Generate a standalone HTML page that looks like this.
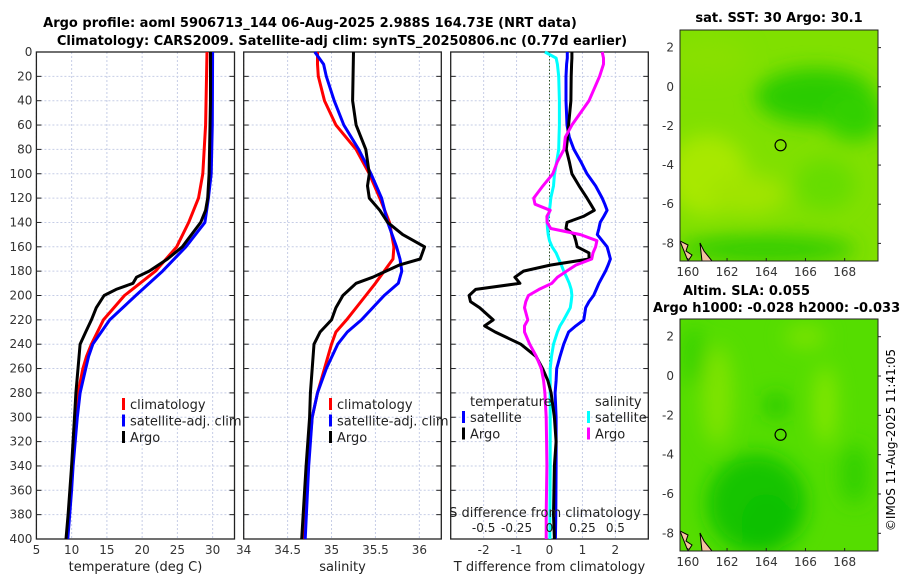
<!DOCTYPE html>
<html><head><meta charset="utf-8">
<style>
html,body{margin:0;padding:0;background:#fff;}
svg text{font-family:"DejaVu Sans","Liberation Sans",sans-serif;}
</style></head>
<body>
<svg id="fig" width="900" height="580" xmlns="http://www.w3.org/2000/svg">
<defs>
<filter id="blur1" x="-50%" y="-50%" width="200%" height="200%"><feGaussianBlur stdDeviation="10"/></filter>
<clipPath id="m1c"><rect x="680" y="30" width="198" height="231"/></clipPath>
<clipPath id="m2c"><rect x="680" y="319" width="198" height="232"/></clipPath>
</defs>
<text x="310" y="27" font-size="13" font-weight="bold" text-anchor="middle">Argo profile: aoml 5906713_144 06-Aug-2025 2.988S 164.73E (NRT data)</text>
<text x="342" y="45" font-size="13" font-weight="bold" text-anchor="middle">Climatology: CARS2009. Satellite-adj clim: synTS_20250806.nc (0.77d earlier)</text>
<g id="panels"></g>
<g id="maps"></g>
<text transform="translate(895,440) rotate(-90)" font-size="12" text-anchor="middle">©IMOS 11-Aug-2025 11:41:05</text>
</svg>
<script>
const tDepth = [0,60,100,120,140,160,180,200,220,240,250,260,280,300,340,360,400];
const tClim  = [29.2,29.0,28.6,28.0,26.6,24.9,21.9,17.5,14.5,12.8,12.1,11.6,10.9,10.6,10.1,9.9,9.3];
const tSat   = [30.0,29.95,29.8,29.4,28.9,26.2,22.9,19.1,15.4,13.0,12.4,12.0,11.2,10.8,10.2,10.0,9.45];
const argoDepth = [0,40,100,120,130,140,160,170,180,185,190,195,200,210,220,230,240,260,280,300,340,380,400];
const tArgo  = [29.7,29.7,29.5,29.3,29.0,28.3,25.7,23.6,21.0,19.2,18.7,16.3,14.6,13.5,12.8,12.0,11.2,10.9,10.6,10.4,10.0,9.5,9.2];

const sDepth = [0,10,20,40,60,80,100,120,140,160,170,180,190,200,220,230,240,260,280,300,340,400];
const sClim = [34.84,34.84,34.85,34.92,35.05,35.28,35.43,35.55,35.66,35.71,35.70,35.60,35.50,35.39,35.17,35.05,35.0,34.92,34.84,34.78,34.73,34.69];
const sSat  = [34.81,34.91,34.94,35.03,35.14,35.31,35.45,35.57,35.64,35.74,35.78,35.80,35.76,35.60,35.34,35.18,35.07,34.94,34.84,34.78,34.74,34.70];
const sArgoDepth = [0,40,60,80,100,110,120,130,140,150,160,170,175,180,185,190,200,210,220,230,240,260,280,300,340,400];
const sArgo = [35.25,35.24,35.28,35.39,35.43,35.41,35.43,35.55,35.64,35.81,36.06,36.01,35.77,35.62,35.47,35.28,35.13,35.05,35.0,34.87,34.80,34.78,34.76,34.75,34.71,34.66];

const dDepth = [0,5,10,20,40,60,70,80,90,100,110,120,125,130,135,140,145,150,155,160,165,170,175,180,185,190,195,200,205,210,220,225,230,240,250,260,270,280,300,320,340,380,400];
const dtArgo = [0.68,0.68,0.67,0.66,0.65,0.58,0.55,0.51,0.6,0.68,0.9,1.14,1.25,1.36,1.03,0.53,0.5,0.74,0.8,0.84,1.2,1.2,0.02,-0.79,-1.05,-0.9,-2.24,-2.44,-2.4,-2.12,-1.71,-1.97,-1.65,-0.87,-0.41,-0.21,-0.05,0.05,0.15,0.2,0.15,0.12,0.15];
const dtSat  = [0.54,0.54,0.52,0.5,0.5,0.53,0.6,0.74,0.95,1.14,1.4,1.6,1.68,1.75,1.65,1.54,1.5,1.45,1.6,1.75,1.8,1.85,1.78,1.7,1.6,1.5,1.42,1.34,1.2,1.1,1.04,0.8,0.58,0.43,0.32,0.22,0.2,0.17,0.2,0.2,0.2,0.19,0.18];
const dsSat  = [-0.035,0.05,0.06,0.07,0.075,0.075,0.072,0.07,0.055,0.038,0.03,0.01,0.005,0.0,-0.01,-0.018,-0.015,-0.01,0.0,0.02,0.05,0.07,0.09,0.108,0.13,0.15,0.165,0.17,0.165,0.158,0.108,0.08,0.06,0.03,0.015,0.005,0.005,0.005,0.005,0.005,0.005,0.003,0.003];
const dsArgo = [0.4,0.41,0.41,0.38,0.3,0.17,0.12,0.11,0.06,0.025,-0.05,-0.12,-0.11,0.005,-0.02,-0.018,0.01,0.235,0.36,0.35,0.33,0.32,0.2,0.13,0.06,0.018,-0.08,-0.16,-0.18,-0.19,-0.165,-0.19,-0.19,-0.15,-0.1,-0.062,-0.045,-0.035,-0.025,-0.022,-0.02,-0.025,-0.025];

const depthTicks = [0,20,40,60,80,100,120,140,160,180,200,220,240,260,280,300,320,340,360,380,400];
const tTicks = [5,10,15,20,25,30];
const sTicks = [34,34.5,35,35.5,36];
const sTickLabels = ["34","34.5","35","35.5","36"];
const dTTicks = [-2,-1,0,1,2];
const dSTicks = [-0.5,-0.25,0,0.25,0.5];
const dSTickLabels = ["-0.5","-0.25","0","0.25","0.5"];

const NS='http://www.w3.org/2000/svg';
const root=document.getElementById('panels');
function mk(tag,attrs,parent){const e=document.createElementNS(NS,tag);for(const k in attrs)e.setAttribute(k,attrs[k]);(parent||root).appendChild(e);return e;}
const Y0=52, Y1=539;
function yScale(d){return Y0+(Y1-Y0)*d/400;}

function panel(name,x0,x1,vmin,vmax){
  const g=mk('g',{});
  
  
  return {g,x0,x1,sx:v=>x0+(x1-x0)*(v-vmin)/(vmax-vmin)};
}
function frame(p,xticks,xlabels,showDepthLabels,xtitle){
  depthTicks.forEach(d=>{const y=yScale(d);
    const gl=mk('line',{x1:p.x0,x2:p.x1,y1:y,y2:y,stroke:'#c6cde6','stroke-width':1,'stroke-dasharray':'2,2'},p.g);
    
    
    mk('line',{x1:p.x0,x2:p.x0+5,y1:y,y2:y,stroke:'#222'},p.g);
    mk('line',{x1:p.x1-5,x2:p.x1,y1:y,y2:y,stroke:'#222'},p.g);
    if(showDepthLabels){const t=mk('text',{x:p.x0-4,y:y+4,'font-size':12,'text-anchor':'end',fill:'#333'},p.g);t.textContent=d;
      
      }
  });
  xticks.forEach((v,i)=>{const x=p.sx(v);
    const gl=mk('line',{x1:x,x2:x,y1:Y0,y2:Y1,stroke:'#c6cde6','stroke-width':1,'stroke-dasharray':'2,2'},p.g);
    
    
    if(xlabels){const t=mk('text',{x:x,y:Y1+15,'font-size':12,'text-anchor':'middle',fill:'#333'},p.g);t.textContent=xlabels[i];
      
      }
  });
  const r=mk('rect',{x:p.x0,y:Y0,width:p.x1-p.x0,height:Y1-Y0,fill:'none',stroke:'#222','stroke-width':1.3},p.g);
  
  
  if(xtitle){const t=mk('text',{x:(p.x0+p.x1)/2,y:Y1+32,'font-size':13,'text-anchor':'middle',fill:'#222'},p.g);t.textContent=xtitle;
    
    }
}
function line(p,depths,vals,color,name,w){
  const pts=vals.map((v,i)=>p.sx(v).toFixed(1)+','+yScale(depths[i]).toFixed(1)).join(' ');
  const pl=mk('polyline',{points:pts,fill:'none',stroke:color,'stroke-width':w||3,'stroke-linejoin':'round'},p.g);
  
  
}
function legend(p,x,y,items){
  items.forEach((it,i)=>{
    const yy=y+i*16.5;
    mk('rect',{x:x,y:yy-11,width:3,height:12,fill:it[1]},p.g);
    const t=mk('text',{x:x+8,y:yy,'font-size':13,fill:'#222'},p.g);t.textContent=it[0];
    
    
  });
}

const p1=panel('temperature-panel',36.4,234.5,5,33.1);
frame(p1,tTicks,tTicks.map(String),true,'temperature (deg C)');
line(p1,tDepth,tClim,'#ff0000','climatology-temp-line');
line(p1,tDepth,tSat,'#0000ff','satellite-temp-line');
line(p1,argoDepth,tArgo,'#000000','argo-temp-line');
legend(p1,122,409,[['climatology','#ff0000'],['satellite-adj. clim','#0000ff'],['Argo','#000']]);

const p2=panel('salinity-panel',243.7,441.3,34,36.25);
frame(p2,sTicks,sTickLabels,false,'salinity');
line(p2,sDepth,sClim,'#ff0000','climatology-salinity-line');
line(p2,sDepth,sSat,'#0000ff','satellite-salinity-line');
line(p2,sArgoDepth,sArgo,'#000000','argo-salinity-line');
legend(p2,329,409,[['climatology','#ff0000'],['satellite-adj. clim','#0000ff'],['Argo','#000']]);

const p3=panel('difference-panel',450.7,648.3,-3,3);
frame(p3,dTTicks,dTTicks.map(String),false,'T difference from climatology');
const zl=mk('line',{x1:p3.sx(0),x2:p3.sx(0),y1:Y0,y2:Y1,stroke:'#335522','stroke-width':1,'stroke-dasharray':'1.5,2'},p3.g);


const sx3=v=>p3.sx(v*4);
line(p3,dDepth,dsSat.map(v=>v*4),'#00ffff','salinity-satellite-diff-line');
line(p3,dDepth,dtSat,'#0000ff','temperature-satellite-diff-line');
line(p3,dDepth,dtArgo,'#000000','temperature-argo-diff-line');
line(p3,dDepth,dsArgo.map(v=>v*4),'#ff00ff','salinity-argo-diff-line');
dSTicks.forEach((v,i)=>{const t=mk('text',{x:sx3(v),y:532,'font-size':12,'text-anchor':'middle',fill:'#222'},p3.g);t.textContent=dSTickLabels[i];
  
  });
{const t=mk('text',{x:545,y:517,'font-size':13,'text-anchor':'middle',fill:'#222'},p3.g);t.textContent='S difference from climatology';
  
  }
{const t=mk('text',{x:470,y:406,'font-size':13,fill:'#222'},p3.g);t.textContent='temperature';
  
  
 const t2=mk('text',{x:595,y:406,'font-size':13,fill:'#222'},p3.g);t2.textContent='salinity';
  
  }
legend(p3,462,422,[['satellite','#0000ff'],['Argo','#000']]);
legend(p3,587,422,[['satellite','#00ffff'],['Argo','#ff00ff']]);

const mapLonTicks=[160,162,164,166,168];
const mapLatTicks=[2,0,-2,-4,-6,-8];
const mroot=document.getElementById('maps');
function map(name,x0,y0,w,h,clip,blobs,base){
  const g=mk('g',{},mroot);
  
  
  const sx=lon=>x0+(lon-159.6)/(169.7-159.6)*w;
  const sy=lat=>y0+(2.9-lat)/(2.9+8.9)*h;
  const cg=mk('g',{'clip-path':'url(#'+clip+')'},g);
  mk('rect',{x:x0,y:y0,width:w,height:h,fill:base},cg);
  const bg=mk('g',{filter:'url(#blur1)'},cg);
  blobs.forEach(b=>mk('ellipse',{cx:sx(b[0]),cy:sy(b[1]),rx:b[2],ry:b[3],fill:b[4]},bg));
  mk('path',{d:`M${x0} ${y0+h-20} l8 4 l-2 6 l6 4 l-4 6 Z`,fill:'#f4c2a0',stroke:'#000','stroke-width':1},cg);
  mk('path',{d:`M${x0+20} ${y0+h-18} l4 8 l8 10 l-10 0 Z`,fill:'#f4c2a0',stroke:'#000','stroke-width':1},cg);
  mk('rect',{x:x0,y:y0,width:w,height:h,fill:'none',stroke:'#222','stroke-width':1},g);
  const c=mk('circle',{cx:sx(164.73),cy:sy(-2.988),r:5.5,fill:'none',stroke:'#000','stroke-width':1.2},g);
  
  
  mapLonTicks.forEach(v=>{const t=mk('text',{x:sx(v),y:y0+h+15,'font-size':12,'text-anchor':'middle',fill:'#333'},g);t.textContent=v;
    
    
    mk('line',{x1:sx(v),x2:sx(v),y1:y0+h,y2:y0+h-3,stroke:'#222'},g);});
  mapLatTicks.forEach(v=>{const t=mk('text',{x:x0-6,y:sy(v)+4,'font-size':12,'text-anchor':'end',fill:'#333'},g);t.textContent=v;
    
    
    mk('line',{x1:x0+w,x2:x0+w+3,y1:sy(v),y2:sy(v),stroke:'#222'},g);});
}
map('sst-map',680,30,198,231,'m1c',[
 [166.5,-0.5,60,28,'#2ccc00'],[168.5,-1.5,30,25,'#33d000'],[161,-4.5,40,40,'#a8e800'],[163,-5.5,40,20,'#a0e400'],
 [164,-8.3,90,14,'#33cc00'],[167,-5,30,25,'#66dd00'],[161,1.5,40,20,'#88e000']],'#80e000');
{const t=mk('text',{x:779,y:22,'font-size':13,'font-weight':'bold','text-anchor':'middle'},mroot);t.textContent='sat. SST: 30 Argo: 30.1';
 }
map('sla-map',680,319,198,232,'m2c',[
 [160.3,1,10,30,'#33d000'],[164.5,-1.5,12,12,'#22c800'],[163.5,-6.5,50,50,'#16c400'],[164,-7.5,25,30,'#10c000'],
 [167,-1.5,10,40,'#88e800'],[168.5,-5,15,30,'#33d000'],[161.5,-1,15,50,'#80e400'],[166,2,20,10,'#80e400']],'#55dd00');
{const t=mk('text',{x:683,y:295,'font-size':13,'font-weight':'bold'},mroot);t.textContent='Altim. SLA: 0.055';
 
 const t2=mk('text',{x:653,y:312,'font-size':13,'font-weight':'bold'},mroot);t2.textContent='Argo h1000: -0.028 h2000: -0.033';
 }
</script>
</body></html>
